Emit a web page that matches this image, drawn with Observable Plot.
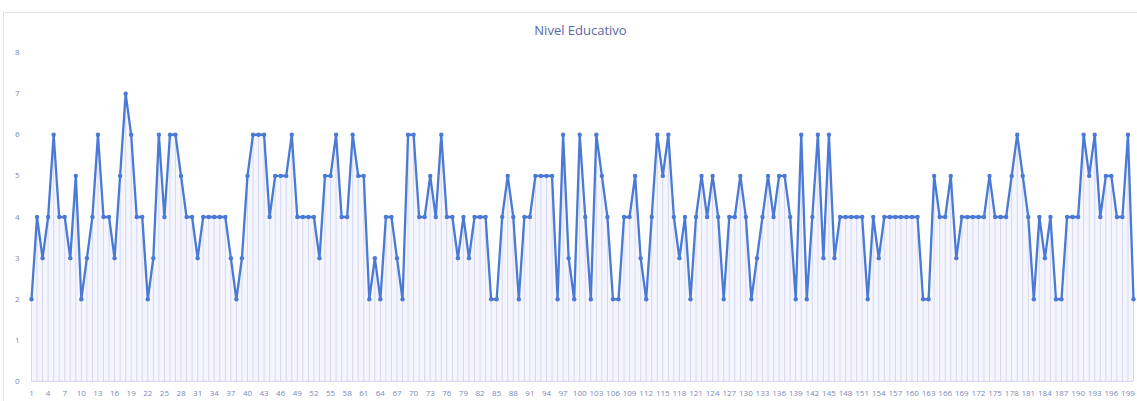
<!DOCTYPE html>
<html><head><meta charset="utf-8">
<script src="https://cdn.jsdelivr.net/npm/d3@7"></script>
<script src="https://cdn.jsdelivr.net/npm/@observablehq/plot@0.6"></script>
<style>
body{margin:0;background:#fff;}
#wrap{position:relative;width:1137px;height:401px;overflow:hidden;}
#frame{position:absolute;left:3px;top:12px;width:1140px;height:400px;border:1px solid #dfe1f3;}
#title{position:absolute;top:21px;left:24px;width:1113px;text-align:center;font:13px "Open Sans";color:#5a67aa;}
#chart{position:absolute;left:0;top:0;}
</style></head><body>
<div id="wrap"><div id="frame"></div><div id="chart"></div><div id="title">Nivel Educativo</div></div>
<script>
const index = d3.range(1, 201);
const values = [
  2,4,3,4,6,4,4,3,5,2,3,4,6,4,4,3,5,7,6,
  4,4,2,3,6,4,6,6,5,4,4,3,4,4,4,4,4,3,
  2,3,5,6,6,6,4,5,5,5,6,4,4,4,4,3,5,
  5,6,4,4,6,5,5,2,3,2,4,4,3,2,6,6,
  4,4,5,4,6,4,4,3,4,3,4,4,4,2,2,4,5,4,2,4,
  4,5,5,5,5,2,6,3,2,6,4,2,6,5,4,2,2,4,
  4,5,3,2,4,6,5,6,4,3,4,2,4,5,4,5,4,2,4,
  4,5,4,2,3,4,5,4,5,5,4,2,6,2,4,6,3,6,
  3,4,4,4,4,4,2,4,3,4,4,4,4,4,4,4,2,2,
  5,4,4,5,3,4,4,4,4,4,5,4,4,4,5,6,5,4,
  2,4,3,4,2,2,4,4,4,6,5,6,4,5,5,4,4,6,2
];
const xTicks = d3.range(1, 200, 3);
const yTicks = [0, 1, 2, 3, 4, 5, 6, 7, 8];
const data = index.map((i, k) => ({i, v: values[k]}));
const lineColor = "#4a7ad6";
const chart = Plot.plot({
  width: 1137, height: 401,
  marginTop: 52, marginBottom: 20, marginLeft: 31, marginRight: 4,
  style: {fontFamily: "Open Sans", fontSize: "8px", color: "#7d88bd", background: "transparent"},
  x: {domain: [1, 200], ticks: xTicks, tickSize: 0, tickPadding: 9, label: null, tickFormat: d => String(d)},
  y: {domain: [0, 8], ticks: yTicks, tickSize: 0, tickPadding: 12, label: null},
  marks: [
    Plot.areaY(data, {x: "i", y: "v", fill: "#f5f5fd"}),
    Plot.ruleX(data, {x: "i", y1: 0, y2: "v", stroke: "#d5d8f3", strokeWidth: 1}),
    Plot.ruleY([0], {stroke: "#d5d8f3"}),
    Plot.lineY(data, {x: "i", y: "v", stroke: lineColor, strokeWidth: 2.3}),
    Plot.dot(data, {x: "i", y: "v", r: 2.2, fill: lineColor})
  ]
});
document.getElementById("chart").appendChild(chart);
</script>
</body></html>
